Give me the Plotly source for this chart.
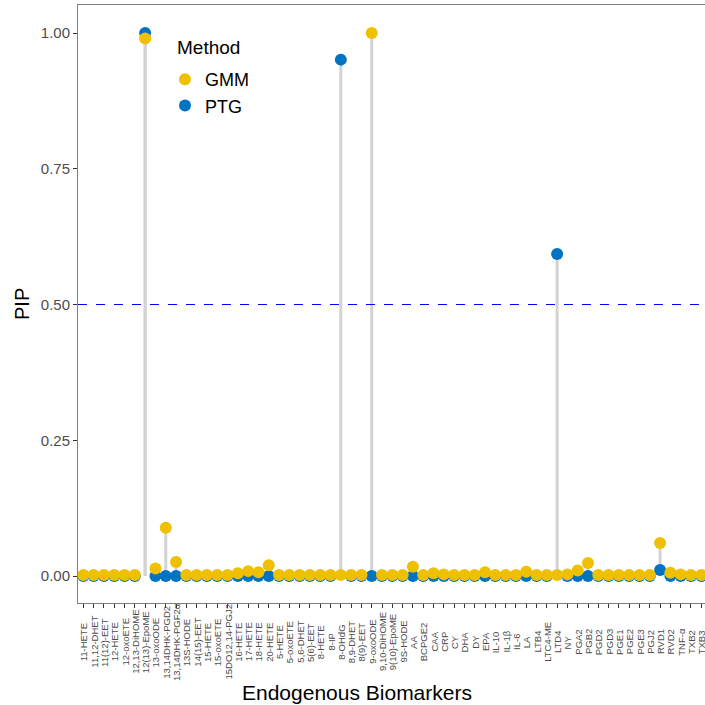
import plotly.graph_objects as go

categories = ["11-HETE", "11,12-DHET", "11(12)-EET", "12-HETE", "12-oxoETE", "12,13-DiHOME",
              "12(13)-EpoME", "13-oxoODE", "13,14DHK-PGD2", "13,14DHK-PGF2α", "13S-HODE",
              "14(15)-EET", "15-HETE", "15-oxoETE", "15DO12,14-PGJ2", "16-HETE", "17-HETE",
              "18-HETE", "20-HETE", "5-HETE", "5-oxoETE", "5,6-DHET", "5(6)-EET", "8-HETE",
              "8-IP", "8-OHdG", "8,9-DHET", "8(9)-EET", "9-oxoODE", "9,10-DiHOME",
              "9(10)-EpoME", "9S-HODE", "AA", "BCPGE2", "CAA", "CRP", "CY", "DHA", "DY", "EPA",
              "IL-10", "IL-1β", "IL-6", "LA", "LTB4", "LTC4-ME", "LTD4", "NY", "PGA2", "PGB2",
              "PGD2", "PGD3", "PGE1", "PGE2", "PGE3", "PGJ2", "RVD1", "RVD2", "TNF-α", "TXB2",
              "TXB3"]

gmm = [0.002, 0.002, 0.002, 0.002, 0.002, 0.002,
       0.99, 0.014, 0.089, 0.026, 0.002,
       0.002, 0.002, 0.002, 0.002, 0.005, 0.009,
       0.007, 0.020, 0.002, 0.002, 0.002, 0.002, 0.002,
       0.002, 0.002, 0.002, 0.002, 1.0, 0.002,
       0.002, 0.002, 0.017, 0.002, 0.005, 0.003, 0.002, 0.002, 0.002, 0.007,
       0.002, 0.002, 0.002, 0.008, 0.002, 0.002, 0.002, 0.003, 0.010, 0.024,
       0.002, 0.002, 0.002, 0.002, 0.002, 0.002, 0.061, 0.006, 0.003, 0.002,
       0.002]

ptg = [0, 0, 0, 0, 0, 0,
       1.0, 0, 0, 0, 0,
       0, 0, 0, 0, 0, 0,
       0, 0, 0, 0, 0, 0, 0,
       0, 0.951, 0, 0, 0, 0,
       0, 0, 0, 0, 0, 0, 0, 0, 0, 0,
       0, 0, 0, 0, 0, 0, 0.593, 0, 0, 0,
       0, 0, 0, 0, 0, 0, 0.011, 0, 0, 0,
       0]

y_ticks = [0.0, 0.25, 0.5, 0.75, 1.0]
y_ticklabels = ["0.00", "0.25", "0.50", "0.75", "1.00"]
threshold = 0.5

GMM_COL = "#EFC000"
PTG_COL = "#0073C2"
FONT = "Liberation Sans, Arial, sans-serif"

idx = list(range(len(categories)))

fig = go.Figure()

# stems
for vals in (ptg, gmm):
    sx, sy = [], []
    for i, v in zip(idx, vals):
        sx += [i, i, None]
        sy += [0, v, None]
    fig.add_trace(go.Scatter(x=sx, y=sy, mode="lines", line=dict(color="#D3D3D3", width=3),
                             showlegend=False, hoverinfo="skip"))

fig.add_trace(go.Scatter(x=idx, y=ptg, mode="markers", name="PTG", legendrank=2,
                         marker=dict(color=PTG_COL, size=12)))
fig.add_trace(go.Scatter(x=idx, y=gmm, mode="markers", name="GMM", legendrank=1,
                         marker=dict(color=GMM_COL, size=12)))

fig.add_hline(y=threshold, line=dict(color="#0000FF", width=1.2, dash="dash"))

L, R, T, B = 78, 0, 5, 102
W = H = 705
pw = W - L - R
ph = H - T - B

def px_x(p):
    return (p - L) / pw

def px_y(p):
    return (H - B - p) / ph

for i, c in zip(idx, categories):
    fig.add_annotation(x=i, xref="x", y=px_y(642), yref="paper", text=c, textangle=-90,
                       showarrow=False, xanchor="center", yanchor="middle",
                       font=dict(size=9.5, color="#4D4D4D", family=FONT))

fig.add_annotation(x=px_x(357), y=px_y(692), xref="paper", yref="paper",
                   text="Endogenous Biomarkers", showarrow=False,
                   xanchor="center", yanchor="middle",
                   font=dict(size=21, color="black", family=FONT))
fig.add_annotation(x=px_x(22), y=px_y(304), xref="paper", yref="paper",
                   text="PIP", showarrow=False, textangle=-90,
                   xanchor="center", yanchor="middle",
                   font=dict(size=20, color="black", family=FONT))
fig.add_annotation(x=px_x(175), y=px_y(48), xref="paper", yref="paper",
                   text="Method", showarrow=False, xanchor="left", yanchor="middle",
                   font=dict(size=19, color="black", family=FONT))

fig.update_layout(
    width=W, height=H,
    margin=dict(l=L, r=R, t=T, b=B),
    paper_bgcolor="white", plot_bgcolor="white",
    font=dict(family=FONT),
    showlegend=True,
    legend=dict(x=px_x(165), y=px_y(61), xanchor="left", yanchor="top",
                font=dict(size=18, color="black"), bgcolor="rgba(0,0,0,0)",
                tracegroupgap=0, itemwidth=30),
    xaxis=dict(range=[-0.52, 60.36], showgrid=False, zeroline=False,
               tickmode="array", tickvals=idx, ticktext=categories, showticklabels=False,
               ticks="outside", ticklen=4, tickcolor="#333333", tickwidth=1,
               showline=True, mirror=True, linecolor="#7F7F7F", linewidth=1),
    yaxis=dict(range=[-0.0497, 1.0516], showgrid=False, zeroline=False,
               tickmode="array", tickvals=y_ticks, ticktext=y_ticklabels,
               ticks="outside", ticklen=4, tickcolor="#333333", tickwidth=1,
               tickfont=dict(size=15, color="#4D4D4D"),
               showline=True, linecolor="#7F7F7F", linewidth=1),
)

fig.write_html("out.html", config={"displayModeBar": False},
               post_script="document.body.style.margin='0px';")
